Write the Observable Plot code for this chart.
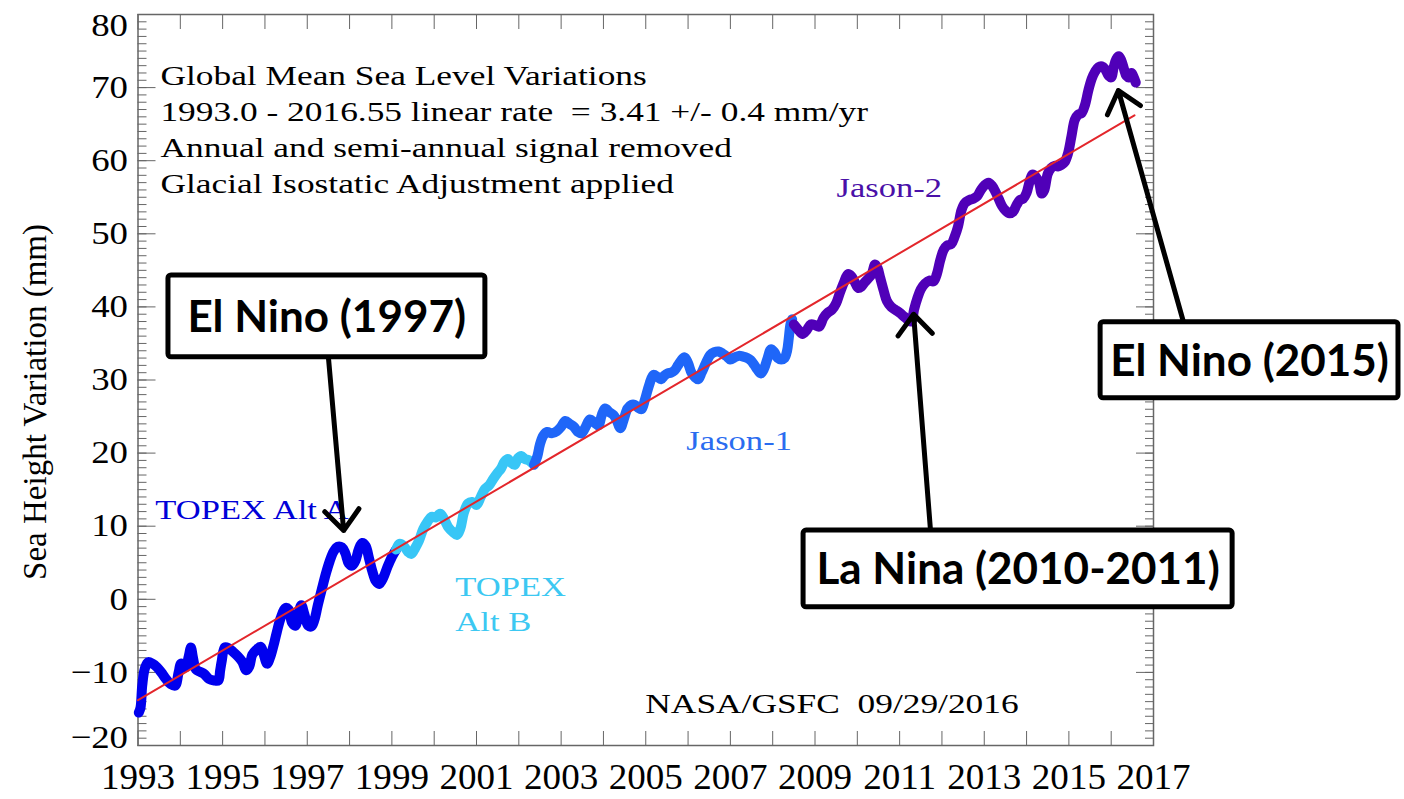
<!DOCTYPE html>
<html>
<head>
<meta charset="utf-8">
<script src="https://cdn.jsdelivr.net/npm/d3@7"></script>
<script src="https://cdn.jsdelivr.net/npm/@observablehq/plot@0.6"></script>
<style>
  body { margin: 0; background: #fff; }
  svg { display: block; }
</style>
</head>
<body>
<div id="chart"></div>
<script>
// ---------------- DATA (year, sea height variation in mm) ----------------
const topexAltA = [
  [1993.02,-15.5],[1993.06,-14.8],[1993.10,-11.8],[1993.16,-9.5],[1993.24,-8.6],[1993.34,-8.8],
  [1993.45,-9.3],[1993.55,-10.0],[1993.66,-10.9],[1993.77,-11.6],[1993.88,-11.8],[1993.96,-10.0],
  [1994.02,-8.8],[1994.12,-9.3],[1994.20,-7.8],[1994.25,-6.6],[1994.30,-8.0],[1994.37,-9.6],
  [1994.46,-9.9],[1994.56,-10.2],[1994.68,-10.9],[1994.80,-11.1],[1994.90,-11.1],[1994.94,-9.8],
  [1994.98,-8.4],[1995.05,-6.6],[1995.14,-6.7],[1995.25,-7.2],[1995.36,-7.8],[1995.46,-8.5],
  [1995.56,-9.7],[1995.63,-9.2],[1995.70,-7.6],[1995.80,-6.9],[1995.90,-6.5],[1995.97,-7.5],
  [1996.05,-8.8],[1996.12,-8.0],[1996.20,-6.4],[1996.28,-4.5],[1996.37,-2.6],[1996.48,-1.2],
  [1996.56,-1.4],[1996.64,-3.2],[1996.72,-3.6],[1996.80,-1.8],[1996.86,-0.8],[1996.93,-2.0],
  [1997.02,-3.6],[1997.10,-3.7],[1997.17,-2.8],[1997.25,-0.8],[1997.35,1.5],[1997.44,3.5],
  [1997.53,5.2],[1997.62,6.5],[1997.72,7.2],[1997.82,7.1],[1997.90,6.3],[1997.98,4.9],
  [1998.06,4.6],[1998.14,5.3],[1998.22,6.9],[1998.30,7.7],[1998.38,7.3],[1998.46,5.6],
  [1998.54,3.8],[1998.62,2.5],[1998.70,2.1],[1998.80,3.0],[1998.90,4.5],[1999.00,5.8],[1999.10,6.8]
];
const topexAltB = [
  [1999.10,6.8],[1999.18,7.6],[1999.28,7.3],[1999.38,6.5],[1999.46,6.2],[1999.55,7.0],[1999.64,8.0],
  [1999.74,9.6],[1999.84,10.6],[1999.94,11.3],[2000.04,11.2],[2000.14,11.7],[2000.24,10.9],
  [2000.34,9.8],[2000.44,9.2],[2000.54,8.8],[2000.62,9.7],[2000.70,11.8],[2000.80,13.1],
  [2000.90,13.3],[2001.00,12.9],[2001.10,14.0],[2001.20,15.1],[2001.30,15.6],[2001.40,16.5],
  [2001.50,17.3],[2001.58,17.9],[2001.66,18.8],[2001.74,19.2],[2001.82,18.7],[2001.90,18.4],
  [2001.98,19.3],[2002.06,19.6],[2002.14,19.2],[2002.24,19.0],[2002.32,18.6]
];
const jason1 = [
  [2002.36,18.4],[2002.44,19.6],[2002.50,21.2],[2002.58,22.4],[2002.67,22.9],[2002.78,22.7],
  [2002.90,23.0],[2003.00,23.6],[2003.10,24.4],[2003.20,24.0],[2003.30,23.6],[2003.40,22.9],
  [2003.48,22.7],[2003.58,23.6],[2003.68,24.6],[2003.78,24.2],[2003.88,23.8],[2003.96,25.2],
  [2004.04,26.1],[2004.14,25.6],[2004.24,25.2],[2004.32,24.4],[2004.40,23.4],[2004.48,24.6],
  [2004.57,26.1],[2004.66,26.6],[2004.74,26.6],[2004.82,26.2],[2004.90,26.0],[2004.98,27.3],
  [2005.08,29.3],[2005.18,30.7],[2005.28,30.4],[2005.36,30.1],[2005.44,30.6],[2005.52,30.9],
  [2005.60,31.0],[2005.68,31.3],[2005.76,32.0],[2005.84,32.7],[2005.92,33.1],[2006.00,32.3],
  [2006.08,31.0],[2006.16,30.4],[2006.24,30.1],[2006.32,31.0],[2006.42,32.3],[2006.52,33.4],
  [2006.62,33.8],[2006.72,33.9],[2006.82,33.6],[2006.92,33.2],[2007.00,32.8],[2007.10,33.1],
  [2007.20,33.3],[2007.30,33.2],[2007.40,33.0],[2007.48,32.7],[2007.56,32.1],[2007.64,31.4],
  [2007.72,30.9],[2007.80,31.6],[2007.88,33.0],[2007.96,34.2],[2008.04,33.8],[2008.12,33.0],
  [2008.20,32.8],[2008.28,33.0],[2008.34,34.0],[2008.38,35.7],[2008.42,37.6],[2008.46,38.3]
];
const jason2 = [
  [2008.50,37.6],[2008.60,36.9],[2008.70,36.3],[2008.80,36.8],[2008.90,37.6],[2009.00,37.5],
  [2009.10,37.3],[2009.20,38.5],[2009.30,39.2],[2009.40,39.6],[2009.50,40.5],[2009.58,41.8],
  [2009.68,43.3],[2009.78,44.5],[2009.86,44.2],[2009.94,43.4],[2010.02,42.6],[2010.10,42.8],
  [2010.18,43.4],[2010.26,43.9],[2010.34,44.5],[2010.42,45.8],[2010.48,45.3],[2010.54,44.0],
  [2010.62,42.3],[2010.70,40.8],[2010.80,40.0],[2010.90,39.6],[2011.00,39.2],[2011.10,38.7],
  [2011.20,38.2],[2011.28,38.0],[2011.34,39.6],[2011.42,41.2],[2011.50,42.4],[2011.60,43.2],
  [2011.70,43.6],[2011.80,43.5],[2011.88,44.5],[2011.96,46.4],[2012.04,47.8],[2012.12,48.4],
  [2012.22,48.6],[2012.30,49.6],[2012.38,51.0],[2012.46,53.2],[2012.54,54.2],[2012.64,54.6],
  [2012.74,54.8],[2012.84,55.2],[2012.92,56.0],[2013.00,56.6],[2013.10,57.0],[2013.18,56.6],
  [2013.26,55.8],[2013.34,54.8],[2013.42,53.8],[2013.50,53.2],[2013.60,52.8],[2013.68,53.0],
  [2013.76,53.9],[2013.84,54.6],[2013.92,54.8],[2014.00,55.6],[2014.08,57.3],[2014.14,58.1],
  [2014.22,57.8],[2014.30,56.9],[2014.36,55.5],[2014.42,56.0],[2014.50,58.2],[2014.58,59.0],
  [2014.66,59.3],[2014.74,59.2],[2014.82,59.4],[2014.90,59.8],[2014.98,61.0],[2015.06,63.3],
  [2015.14,65.6],[2015.22,66.3],[2015.30,66.5],[2015.38,67.6],[2015.46,69.6],[2015.54,71.2],
  [2015.62,72.2],[2015.70,72.8],[2015.78,72.9],[2015.86,72.5],[2015.94,71.6],[2016.00,71.4],
  [2016.06,72.8],[2016.12,73.9],[2016.18,74.3],[2016.24,73.7],[2016.30,72.6],[2016.36,71.6],
  [2016.42,71.4],[2016.48,72.0],[2016.52,71.6],[2016.58,70.7]
];
// linear trend (1993.0 - 2016.55, 3.41 mm/yr) endpoints
const trendLine = [[1993.0,-13.8],[2016.55,66.2]];

const missionNames = ["TOPEX Alt A", "TOPEX Alt B", "Jason-1", "Jason-2"];
const missionSeries = [topexAltA, topexAltB, jason1, jason2];

// tick labels
const xTickLabels = [1993,1995,1997,1999,2001,2003,2005,2007,2009,2011,2013,2015,2017];
const yTickLabels = [-20,-10,0,10,20,30,40,50,60,70,80];

// texts
const titleLines = [
  "Global Mean Sea Level Variations",
  "1993.0 - 2016.55 linear rate\u00a0 = 3.41 +/- 0.4 mm/yr",
  "Annual and semi-annual signal removed",
  "Glacial Isostatic Adjustment applied"
];
const creditText = "NASA/GSFC\u00a0 09/29/2016";
const yAxisTitle = "Sea Height Variation (mm)";

// annotations (in data units: year, mm)
const titleAnchor = [{t: 1993.53, h: 73.9}];
const yTitleAnchor = [{t: 1990.58, h: 27.0}];
const missionLabels = [
  {text: "TOPEX Alt A", mission: "TOPEX Alt A", t: 1993.41, h: 12.5},
  {text: "TOPEX\nAlt B", mission: "TOPEX Alt B", t: 2000.50, h: -0.4},
  {text: "Jason-1", mission: "Jason-1", t: 2005.96, h: 21.9},
  {text: "Jason-2", mission: "Jason-2", t: 2009.51, h: 56.6}
];
const creditAnchor = [{t: 2004.99, h: -14.4}];
const calloutBoxes = [
  {text: "El Nino (1997)", t1: 1993.72, t2: 2001.21, h1: 44.3, h2: 33.1, tc: 1997.46, hc: 38.5},
  {text: "La Nina (2010-2011)", t1: 2008.73, t2: 2018.87, h1: 9.4, h2: -1.1, tc: 2013.80, hc: 4.0},
  {text: "El Nino (2015)", t1: 2015.75, t2: 2022.79, h1: 37.9, h2: 27.5, tc: 2019.27, hc: 32.5}
];
const calloutArrows = [
  {t1: 1997.50, h1: 33.1, t2: 1997.86, h2: 9.4},
  {t1: 2011.73, h1: 9.4, t2: 2011.33, h2: 39.0},
  {t1: 2017.71, h1: 37.9, t2: 2016.17, h2: 69.6}
];

// ---------------- STYLES ----------------
const missionColors = {
  "TOPEX Alt A": "#0000ee",
  "TOPEX Alt B": "#38c6f6",
  "Jason-1": "#1f66f8",
  "Jason-2": "#5000b8"
};
const labelColors = {
  "TOPEX Alt A": "#0000d8",
  "TOPEX Alt B": "#3cc8f2",
  "Jason-1": "#2a6cf0",
  "Jason-2": "#4a10a8"
};
const SERIF = "'Liberation Serif', 'Times New Roman', serif";
const SANS = "Lato, 'Open Sans', sans-serif";
const AX = "#666";

// ---------------- BUILD ----------------
const rows = missionSeries.flatMap((s, i) => s.map(([t, h]) => ({mission: missionNames[i], t, h})));
const trendRows = trendLine.map(([t, h]) => ({t, h}));
const yMinor = d3.range(-20, 81, 1);
const yMajor = yTickLabels;
const xTicks = d3.range(1993, 2018, 1);
const yMid = yTickLabels.filter(v => v > -20 && v < 80);

const chart = Plot.plot({
  width: 1404,
  height: 799,
  marginLeft: 137.5,
  marginRight: 251,
  marginTop: 14,
  marginBottom: 54,
  x: {domain: [1993, 2017], label: null},
  y: {domain: [-20, 80], label: null},
  color: {type: "identity"},
  style: {background: "white", fontFamily: SERIF, color: "black"},
  marks: [
    // inward ticks on all four sides
    Plot.axisX({anchor: "bottom", ticks: xTicks, tickSize: -14, fill: "none", stroke: AX, label: null}),
    Plot.axisX({anchor: "top", ticks: xTicks, tickSize: -14, fill: "none", stroke: AX, label: null}),
    Plot.axisY({anchor: "left", ticks: yMinor, tickSize: -9, fill: "none", stroke: AX, label: null}),
    Plot.axisY({anchor: "left", ticks: yMajor, tickSize: -18, fill: "none", stroke: AX, label: null}),
    Plot.axisY({anchor: "right", ticks: yMinor, tickSize: -9, fill: "none", stroke: AX, label: null}),
    Plot.axisY({anchor: "right", ticks: yMajor, tickSize: -18, fill: "none", stroke: AX, label: null}),
    Plot.frame({stroke: AX, strokeWidth: 1.5}),
    // tick labels
    Plot.axisX({anchor: "bottom", ticks: xTickLabels, tickSize: 0, tickPadding: 18, fontSize: 36, label: null,
      tickFormat: d => String(d), ariaDescription: "xticklabels"}),
    Plot.axisY({anchor: "left", ticks: yMid, tickSize: 0, tickPadding: 10, fontSize: 32, label: null, ariaDescription: "yticklabels"}),
    Plot.axisY({anchor: "left", ticks: [80], tickSize: 0, tickPadding: 10, fontSize: 32, dy: 11, label: null, ariaDescription: "yticklabels"}),
    Plot.axisY({anchor: "left", ticks: [-20], tickSize: 0, tickPadding: 10, fontSize: 32, dy: -8, label: null, ariaDescription: "yticklabels"}),
    // y-axis title
    Plot.text(yTitleAnchor, {x: "t", y: "h", text: () => yAxisTitle, rotate: -90, textAnchor: "middle", lineAnchor: "middle",
      fontSize: 33, fill: "black"}),
    // sea level series
    ...missionNames.map(m => Plot.line(rows.filter(r => r.mission === m), {
      x: "t", y: "h", stroke: missionColors[m], strokeWidth: 10,
      strokeLinejoin: "round", strokeLinecap: "round", curve: "catmull-rom"
    })),
    // linear trend
    Plot.line(trendRows, {x: "t", y: "h", stroke: "#e3262b", strokeWidth: 2}),
    // title block
    Plot.text(titleAnchor, {x: "t", y: "h", text: () => titleLines.join("\n"), textAnchor: "start", lineAnchor: "top",
      fontSize: 27, lineHeight: 36 / 27, fill: "black", ariaDescription: "title-block"}),
    // mission labels
    Plot.text(missionLabels, {x: "t", y: "h", text: "text", fill: d => labelColors[d.mission], textAnchor: "start",
      lineAnchor: "middle", fontSize: 27, lineHeight: 35 / 27, ariaDescription: "mission-labels"}),
    // credit
    Plot.text(creditAnchor, {x: "t", y: "h", text: () => creditText, textAnchor: "start", lineAnchor: "middle",
      fontSize: 27, fill: "black", ariaDescription: "credit"}),
    // callouts
    Plot.arrow(calloutArrows, {x1: "t1", y1: "h1", x2: "t2", y2: "h2", stroke: "black", strokeWidth: 5,
      headLength: 8, headAngle: 80}),
    Plot.rect(calloutBoxes, {x1: "t1", x2: "t2", y1: "h1", y2: "h2", fill: "white", stroke: "black", strokeWidth: 5, rx: 3}),
    Plot.text(calloutBoxes, {x: "tc", y: "hc", text: "text", fontFamily: SANS, fontWeight: 700, fontSize: 44,
      fill: "black", textAnchor: "middle", lineAnchor: "middle"})
  ]
});

// horizontal stretch of the serif texts, to match the reference's wide lettering
function stretch(key, sx) {
  chart.querySelectorAll(`g[aria-description="${key}"] text`).forEach(t => {
    const tr = t.getAttribute("transform") || "";
    t.setAttribute("transform", tr + ` scale(${sx},1)`);
  });
}
stretch("title-block", 1.31);
stretch("mission-labels", 1.28);
stretch("credit", 1.31);
stretch("yticklabels", 1.15);
stretch("xticklabels", 1.03);

document.getElementById("chart").appendChild(chart);
</script>
</body>
</html>
